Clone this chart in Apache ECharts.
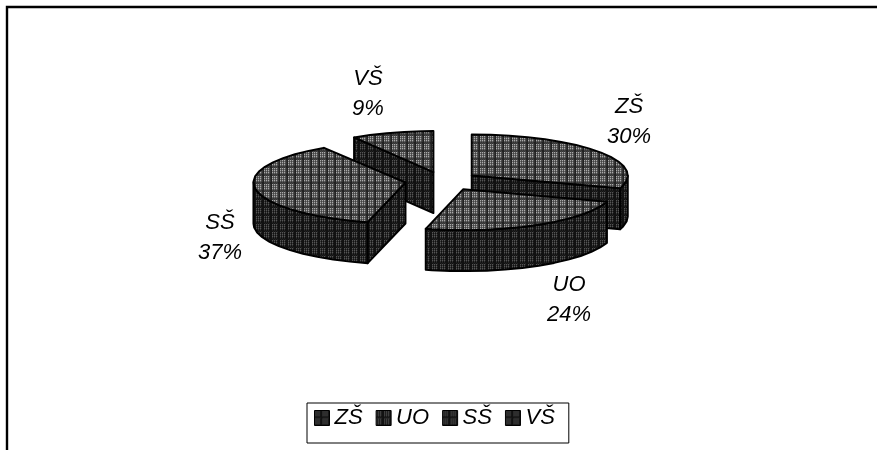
<!DOCTYPE html>
<html>
<head>
<meta charset="utf-8">
<style>html,body{margin:0;padding:0;background:#fff}#chart{width:877px;height:450px}</style>
<script src="https://cdn.jsdelivr.net/npm/echarts@6/dist/echarts.min.js"></script>
</head>
<body>
<div id="chart"></div>
<script>
// Education levels and their share of the whole
const categories = ['ZŠ', 'UO', 'SŠ', 'VŠ'];
const values = [30, 24, 37, 9];

// Pseudo-3D pie projection
const centre = { x: 445, y: 181 };
const radius = { x: 151, y: 41 };
const explode = { x: 38, y: 9.3 };
const depth = 41;
const facetStep = 7; // degrees per rim segment, gives the rim its faceted look
const paintOrder = { 'VŠ': 1, 'ZŠ': 2, 'SŠ': 3, 'UO': 4 };
const labelPlacement = { 'ZŠ': [629, 122], 'UO': [569, 300], 'SŠ': [220, 238], 'VŠ': [368, 94] };
// Small per-slice corrections of the projection
const sliceFit = { 'ZŠ': { dx: -4, rx: 156 }, 'UO': { dx: 0, rx: 151 }, 'SŠ': { dx: -2, rx: 152 }, 'VŠ': { dx: -1, rx: 148 } };

// Halftone tiles, one hex digit per pixel giving the grey level
const topTile = ['a5a5a532', '64646432', 'a5a5a532', '64646432', 'a5a5a532', '64646432', '43434322', '34343422'];
const sideTile = ['52525211', '31313111', '52525211', '31313111', '52525211', '31313111', '21212111', '12121211'];

function makePattern(rows) {
  const c = document.createElement('canvas');
  c.width = rows[0].length;
  c.height = rows.length;
  const g = c.getContext('2d');
  rows.forEach((row, y) => {
    [...row].forEach((d, x) => {
      const v = parseInt(d, 16) * 17;
      g.fillStyle = `rgb(${v},${v},${v})`;
      g.fillRect(x, y, 1, 1);
    });
  });
  return { image: c, repeat: 'repeat' };
}
const topFill = makePattern(topTile);
const sideFill = makePattern(sideTile);

const total = values.reduce((a, b) => a + b, 0);
const rad = d => d * Math.PI / 180;

function sliceShapes(index, value) {
  const name = categories[index];
  const fit = sliceFit[name];
  const start = values.slice(0, index).reduce((a, b) => a + b, 0) / total * 360;
  const end = start + value / total * 360;
  const mid = rad((start + end) / 2);
  const apex = [centre.x + fit.dx + explode.x * Math.sin(mid), centre.y - explode.y * Math.cos(mid)];
  const rim = a => [apex[0] + fit.rx * Math.sin(rad(a)), apex[1] - radius.y * Math.cos(rad(a))];
  const drop = p => [p[0], p[1] + depth];
  const stroke = { stroke: '#000', lineWidth: 2, lineJoin: 'round' };

  const arc = (from, to) => {
    const pts = [];
    for (let a = from; a < to; a += facetStep) pts.push(rim(a));
    pts.push(rim(to));
    return pts;
  };
  const poly = (points, fill) => ({
    type: 'polygon',
    shape: { points },
    style: Object.assign({ fill }, stroke)
  });

  const children = [];
  // Cut faces that turn towards the viewer
  if (Math.sin(rad(start)) < -1e-6) {
    const r = rim(start);
    children.push(poly([apex, r, drop(r), drop(apex)], sideFill));
  }
  if (Math.sin(rad(end)) > 1e-6) {
    const r = rim(end);
    children.push(poly([apex, r, drop(r), drop(apex)], sideFill));
  }
  // Outer wall along the front half of the rim
  const wallFrom = Math.max(start, 90);
  const wallTo = Math.min(end, 270);
  if (wallFrom < wallTo) {
    const top = arc(wallFrom, wallTo);
    children.push(poly(top.concat(top.map(drop).reverse()), sideFill));
  }
  // Top face
  children.push(poly([apex].concat(arc(start, end)), topFill));
  // Category and percentage label
  const pos = labelPlacement[name];
  children.push({
    type: 'text',
    style: {
      x: pos[0],
      y: pos[1],
      text: name + '\n' + Math.round(value / total * 100) + '%',
      font: 'italic 22px "Liberation Sans", Arial, sans-serif',
      lineHeight: 30,
      fill: '#000',
      align: 'center',
      verticalAlign: 'middle'
    }
  });
  return { type: 'group', children };
}

const chart = echarts.init(document.getElementById('chart'), null, { renderer: 'canvas' });
chart.setOption({
  animation: false,
  backgroundColor: '#fff',
  graphic: [
    {
      type: 'polyline',
      silent: true,
      shape: { points: [[7, 450], [7, 7], [877, 7]] },
      style: { stroke: '#000', lineWidth: 2.4, fill: null }
    }
  ],
  legend: {
    left: 307,
    top: 403,
    orient: 'horizontal',
    selectedMode: false,
    icon: 'rect',
    itemWidth: 15,
    itemHeight: 15,
    itemGap: 13,
    padding: [4, 14, 14, 7],
    backgroundColor: '#fff',
    borderColor: '#000',
    borderWidth: 1,
    data: categories.map(name => ({ name, itemStyle: { color: sideFill, borderColor: '#000', borderWidth: 1 } })),
    textStyle: { fontFamily: '"Liberation Sans", Arial, sans-serif', fontStyle: 'italic', fontSize: 22, color: '#000' }
  },
  series: categories.map((name, i) => ({
    type: 'custom',
    name,
    coordinateSystem: 'none',
    z: paintOrder[name],
    silent: true,
    itemStyle: { color: topFill },
    data: [values[i]],
    renderItem: (params, api) => sliceShapes(i, api.value(0))
  }))
});
</script>
</body>
</html>
